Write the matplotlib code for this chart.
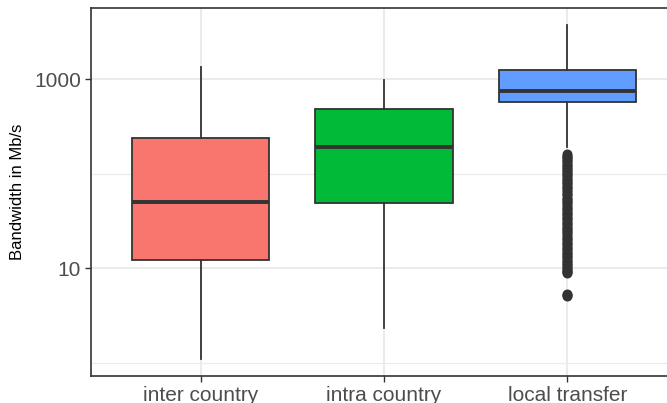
# 대역폭 박스플롯 (ggplot theme_bw 스타일 재현)
import matplotlib
matplotlib.use("Agg")
import matplotlib.pyplot as plt
from matplotlib.ticker import FixedLocator, NullFormatter

plt.rcParams["font.family"] = ["Liberation Sans", "DejaVu Sans"]

# ------------------------------------------------------------
# 데이터 (그림에서 읽은 값, 단위 Mb/s)
# ------------------------------------------------------------
categories = ["inter country", "intra country", "local transfer"]
colors = ["#F8766D", "#00BA38", "#619CFF"]

whisker_low = [1.12, 2.38, 191]
q1 = [12.4, 48.6, 568]
median = [50.8, 193, 747]
q3 = [238, 485, 1236]
whisker_high = [1330, 975, 3725]

# local transfer 이상치 (나머지 두 그룹은 없음)
local_outliers = [160, 155, 150, 145, 140, 135, 130, 125, 121, 116, 112,
                  108, 104, 100, 96, 92, 89, 85, 82, 79, 76, 73, 70, 67,
                  64, 61, 59, 56, 54, 52, 50, 48, 46, 44, 42, 40.5, 39,
                  37.5, 36, 34.5, 33, 31.7, 30.5, 29.2, 28, 27, 26, 25,
                  24, 23, 22, 21.1, 20.3, 19.5, 18.7, 18, 17.2, 16.5,
                  15.9, 15.3, 14.7, 14.1, 13.6, 13.1, 12.6, 12.1, 11.6,
                  11.2, 10.8, 10.4, 10, 9.7, 9.4, 9.2, 9.06, 5.4, 5.2, 5.1]
outliers = [[], [], local_outliers]

y_major = [10, 1000]
y_minor = [1, 100]

# ------------------------------------------------------------
# 그림
# ------------------------------------------------------------
fig = plt.figure(figsize=(6.67, 4.03), dpi=100)
ax = fig.add_axes([90.7 / 667, 27 / 403, 586.6 / 667, 368 / 403])

stats = []
for i, name in enumerate(categories):
    stats.append({"label": name, "whislo": whisker_low[i], "q1": q1[i],
                  "med": median[i], "q3": q3[i], "whishi": whisker_high[i],
                  "fliers": outliers[i]})

edge = "#333333"
bp = ax.bxp(stats, positions=[1, 2, 3], widths=0.75, patch_artist=True,
            showcaps=False,
            boxprops=dict(edgecolor=edge, linewidth=1.3),
            whiskerprops=dict(color=edge, linewidth=1.3),
            medianprops=dict(color=edge, linewidth=2.8),
            flierprops=dict(marker="o", markersize=6.2, markerfacecolor=edge,
                            markeredgecolor=edge, linestyle="none"))
for patch, c in zip(bp["boxes"], colors):
    patch.set_facecolor(c)

ax.set_yscale("log")
ax.set_ylim(10 ** -0.135, 10 ** 3.75)
ax.set_xlim(0.4, 3.6)

ax.yaxis.set_major_locator(FixedLocator(y_major))
ax.yaxis.set_minor_locator(FixedLocator(y_minor))
ax.set_yticklabels([str(v) for v in y_major])
ax.yaxis.set_minor_formatter(NullFormatter())
ax.set_xticks([1, 2, 3])
ax.set_xticklabels(categories)

# 그리드 (theme_bw)
ax.set_axisbelow(True)
ax.grid(True, which="major", color="#EBEBEB", linewidth=1.5)
ax.grid(True, which="minor", axis="y", color="#EBEBEB", linewidth=0.8)

ax.tick_params(axis="both", which="major", length=4, width=1, color=edge,
               labelsize=15, labelcolor="#4D4D4D", pad=3)
ax.tick_params(axis="y", which="minor", length=0)
for s in ax.spines.values():
    s.set_color(edge)
    s.set_linewidth(1.2)

ax.set_ylabel("Bandwidth in Mb/s", fontsize=12, color="black")
ax.yaxis.set_label_coords((25 - 90.7) / 586.6, 0.5)

fig.savefig("out.png", dpi=100)
